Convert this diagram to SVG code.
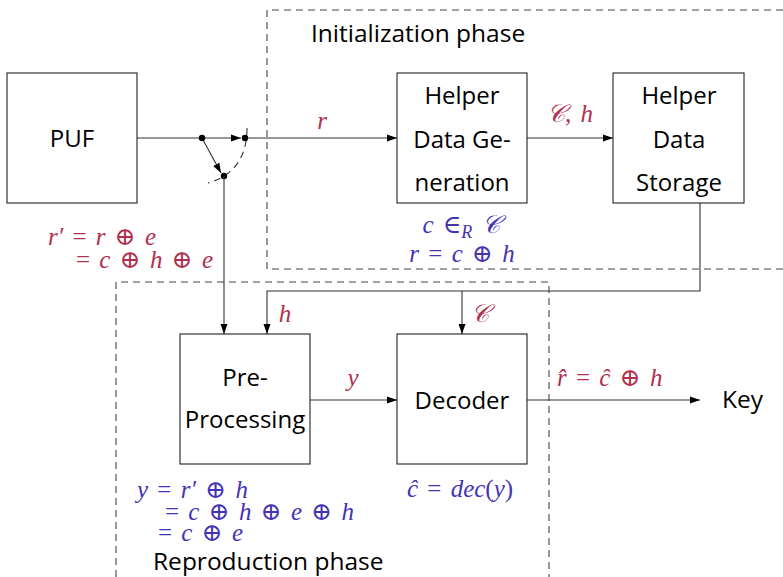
<svg xmlns="http://www.w3.org/2000/svg" width="783" height="577" viewBox="0 0 783 577">
<defs>
<marker id="ah" viewBox="0 0 10 10" refX="10" refY="5" markerWidth="10" markerHeight="10" markerUnits="userSpaceOnUse" orient="auto">
<path d="M0,1.5 L10,5 L0,8.5 Z" fill="#000"/>
</marker>
<style>
.box{fill:#fff;stroke:#222;stroke-width:1.1}
.phase{fill:none;stroke:#444;stroke-width:1.1;stroke-dasharray:7,5}
.ln{fill:none;stroke:#333;stroke-width:1.1}
.lbl{font-family:"Open Sans","DejaVu Sans",sans-serif;font-size:24px;fill:#000;text-anchor:middle}
.ph{font-family:"Open Sans","DejaVu Sans",sans-serif;font-size:24.5px;fill:#000}
.m{font-family:"Liberation Serif","DejaVu Serif",serif;font-style:italic;font-size:25px;word-spacing:3px}
.red{fill:#b0304f}
.blue{fill:#4434b4}
.up{font-style:normal}
</style>
</defs>
<rect width="783" height="577" fill="#fff"/>
<g id="init-phase">
<path class="phase" d="M783,10 H267 V269 H783"/>
<text class="ph" x="311" y="42">Initialization phase</text>
</g>
<g id="repro-phase">
<path class="phase" d="M116,577 V282 H549 V577"/>
<text class="ph" x="153" y="570">Reproduction phase</text>
</g>
<g id="connectors">
<line class="ln" x1="137" y1="138" x2="241" y2="138" marker-end="url(#ah)"/>
<line class="ln" x1="245" y1="138" x2="397" y2="138" marker-end="url(#ah)"/>
<line class="ln" x1="202" y1="138" x2="221" y2="173" marker-end="url(#ah)"/>
<path class="ln" d="M247,128 Q247,172 208,183" stroke-dasharray="7,5"/>
<circle cx="202" cy="138" r="3.2" fill="#000"/>
<circle cx="245" cy="138" r="3.2" fill="#000"/>
<circle cx="224" cy="176" r="3.2" fill="#000"/>
<line class="ln" x1="224" y1="176" x2="224" y2="334" marker-end="url(#ah)"/>
<line class="ln" x1="527" y1="138" x2="613" y2="138" marker-end="url(#ah)"/>
<path class="ln" d="M700,203 V291 H267 V334" marker-end="url(#ah)"/>
<line class="ln" x1="462" y1="291" x2="462" y2="334" marker-end="url(#ah)"/>
<line class="ln" x1="310" y1="400" x2="397" y2="400" marker-end="url(#ah)"/>
<line class="ln" x1="527" y1="400" x2="700" y2="400" marker-end="url(#ah)"/>
<text class="m red" x="322" y="129" text-anchor="middle">r</text>
<text class="m red" x="570" y="122" text-anchor="middle">𝒞, h</text>
<text class="m red" x="285" y="322" text-anchor="middle">h</text>
<text class="m red" x="480" y="322" text-anchor="middle">𝒞</text>
<text class="m red" x="353" y="386" text-anchor="middle">y</text>
<text class="m red" x="557" y="386">r̂ <tspan class="up">=</tspan> ĉ <tspan class="up">⊕</tspan> h</text>
</g>
<g id="puf">
<rect class="box" x="7" y="73" width="130" height="130"/>
<text class="lbl" x="72" y="147">PUF</text>
</g>
<g id="hdg">
<rect class="box" x="397" y="73" width="130" height="130"/>
<text class="lbl" x="462" y="104">Helper</text>
<text class="lbl" x="462" y="148">Data Ge-</text>
<text class="lbl" x="462" y="191">neration</text>
<text class="m blue" x="461" y="233" text-anchor="middle">c <tspan class="up">∈</tspan><tspan font-size="18" dy="5">R</tspan><tspan dy="-5"> 𝒞</tspan></text>
<text class="m blue" x="462" y="262" text-anchor="middle">r <tspan class="up">=</tspan> c <tspan class="up">⊕</tspan> h</text>
</g>
<g id="hds">
<rect class="box" x="613" y="73" width="131" height="130"/>
<text class="lbl" x="679" y="104">Helper</text>
<text class="lbl" x="679" y="148">Data</text>
<text class="lbl" x="679" y="191">Storage</text>
</g>
<g id="puf-eq">
<text class="m red" x="48" y="245">r′ <tspan class="up">=</tspan> r <tspan class="up">⊕</tspan> e</text>
<text class="m red" x="76" y="268"><tspan class="up">=</tspan> c <tspan class="up">⊕</tspan> h <tspan class="up">⊕</tspan> e</text>
</g>
<g id="preproc">
<rect class="box" x="180" y="334" width="130" height="130"/>
<text class="lbl" x="245" y="386">Pre-</text>
<text class="lbl" x="245" y="428">Processing</text>
<text class="m blue" x="137" y="498">y <tspan class="up">=</tspan> r′ <tspan class="up">⊕</tspan> h</text>
<text class="m blue" x="165" y="520"><tspan class="up">=</tspan> c <tspan class="up">⊕</tspan> h <tspan class="up">⊕</tspan> e <tspan class="up">⊕</tspan> h</text>
<text class="m blue" x="158" y="541"><tspan class="up">=</tspan> c <tspan class="up">⊕</tspan> e</text>
</g>
<g id="decoder">
<rect class="box" x="397" y="334" width="130" height="130"/>
<text class="lbl" x="462" y="409">Decoder</text>
<text class="m blue" x="460" y="497" text-anchor="middle">ĉ <tspan class="up">=</tspan> dec<tspan class="up">(</tspan>y<tspan class="up">)</tspan></text>
</g>
<g id="key">
<text class="ph" x="722" y="408">Key</text>
</g>
</svg>
